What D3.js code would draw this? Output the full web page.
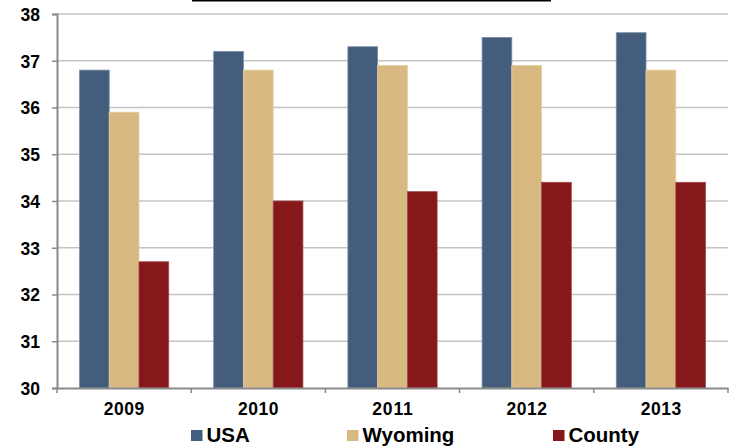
<!DOCTYPE html>
<html>
<head>
<meta charset="utf-8">
<script src="https://cdn.jsdelivr.net/npm/d3@7"></script>
<style>
  body { margin: 0; background: #fff; }
  text { font-family: "Liberation Sans", Arial, sans-serif; font-weight: bold; fill: #000; }
</style>
</head>
<body>
<div id="container"></div>
<script>
// data
const years = ["2009", "2010", "2011", "2012", "2013"];
const seriesNames = ["USA", "Wyoming", "County"];
const usa = [36.8, 37.2, 37.3, 37.5, 37.6];
const wyoming = [35.9, 36.8, 36.9, 36.9, 36.8];
const county = [32.7, 34.0, 34.2, 34.4, 34.4];
const yTicks = [30, 31, 32, 33, 34, 35, 36, 37, 38];
const colors = ["#445d7c", "#d9b982", "#86171a"];
const strokes = ["#7d8fa8", "#e6cf9f", "#a04a4c"];

const W = 738, H = 447;
const margin = {top: 14, left: 57},
    width = 728 - margin.left,
    height = 388 - margin.top;

const svg = d3.select("#container")
  .append("svg")
    .attr("width", W)
    .attr("height", H);

// underline of the title that sits above the frame
svg.append("line")
  .attr("x1", 192).attr("x2", 551)
  .attr("y1", 0.75).attr("y2", 0.75)
  .attr("stroke", "#000")
  .attr("stroke-width", 1.5);

const g = svg.append("g")
  .attr("transform", `translate(${margin.left},${margin.top})`);

const x = d3.scaleBand()
  .domain(years)
  .range([0, width]);

const groupW = x.bandwidth() * 0.665;
const x1 = d3.scaleBand()
  .domain(seriesNames)
  .range([(x.bandwidth() - groupW) / 2, (x.bandwidth() + groupW) / 2]);

const y = d3.scaleLinear()
  .domain([30, 38])
  .range([height, 0]);

// gridlines
g.append("g")
  .selectAll("line")
  .data(yTicks.slice(1))
  .join("line")
    .attr("x1", 0).attr("x2", width)
    .attr("y1", d => y(d)).attr("y2", d => y(d))
    .attr("stroke", "#c4c4c4")
    .attr("stroke-width", 1.5);

// bars
const rows = years.map((yr, i) => ({year: yr, vals: [usa[i], wyoming[i], county[i]]}));
g.append("g")
  .selectAll("g")
  .data(rows)
  .join("g")
    .attr("transform", d => `translate(${x(d.year)},0)`)
  .selectAll("rect")
  .data(d => d.vals.map((v, j) => ({name: seriesNames[j], v: v, j: j})))
  .join("rect")
    .attr("x", d => x1(d.name))
    .attr("width", x1.bandwidth())
    .attr("y", d => y(d.v))
    .attr("height", d => height - y(d.v))
    .attr("fill", d => colors[d.j])
    .attr("stroke", d => strokes[d.j])
    .attr("stroke-width", 0.8);

// y axis
const yAxis = g.append("g")
  .call(d3.axisLeft(y).tickValues(yTicks).tickSize(5).tickPadding(12).tickFormat(d3.format("d")));
yAxis.select(".domain").attr("stroke", "#8a8a8a").attr("stroke-width", 2);
yAxis.selectAll(".tick line").attr("stroke", "#8a8a8a").attr("stroke-width", 1.5);
yAxis.selectAll("text").style("font-size", "17.5px").attr("dy", "0.36em");

// x axis
const xAxis = g.append("g")
  .attr("transform", `translate(0,${height})`)
  .call(d3.axisBottom(x).tickSize(0).tickPadding(15));
xAxis.select(".domain").attr("stroke", "#8a8a8a").attr("stroke-width", 2);
xAxis.selectAll("text").style("font-size", "17.5px").attr("textLength", 40.5);
// category separators
xAxis.append("g")
  .selectAll("line")
  .data(years.concat(["end"]))
  .join("line")
    .attr("x1", (d, i) => i * x.step())
    .attr("x2", (d, i) => i * x.step())
    .attr("y1", 0).attr("y2", 5)
    .attr("stroke", "#8a8a8a")
    .attr("stroke-width", 1.5);

// legend
const legendX = [191, 347, 553];
const legend = svg.append("g")
  .selectAll("g")
  .data(seriesNames)
  .join("g")
    .attr("transform", (d, i) => `translate(${legendX[i]},430)`);
legend.append("rect")
  .attr("width", 11.5).attr("height", 11)
  .attr("fill", (d, i) => colors[i]);
legend.append("text")
  .attr("x", 15.5).attr("y", 11.7)
  .style("font-size", "20.5px")
  .text(d => d);
</script>
</body>
</html>
